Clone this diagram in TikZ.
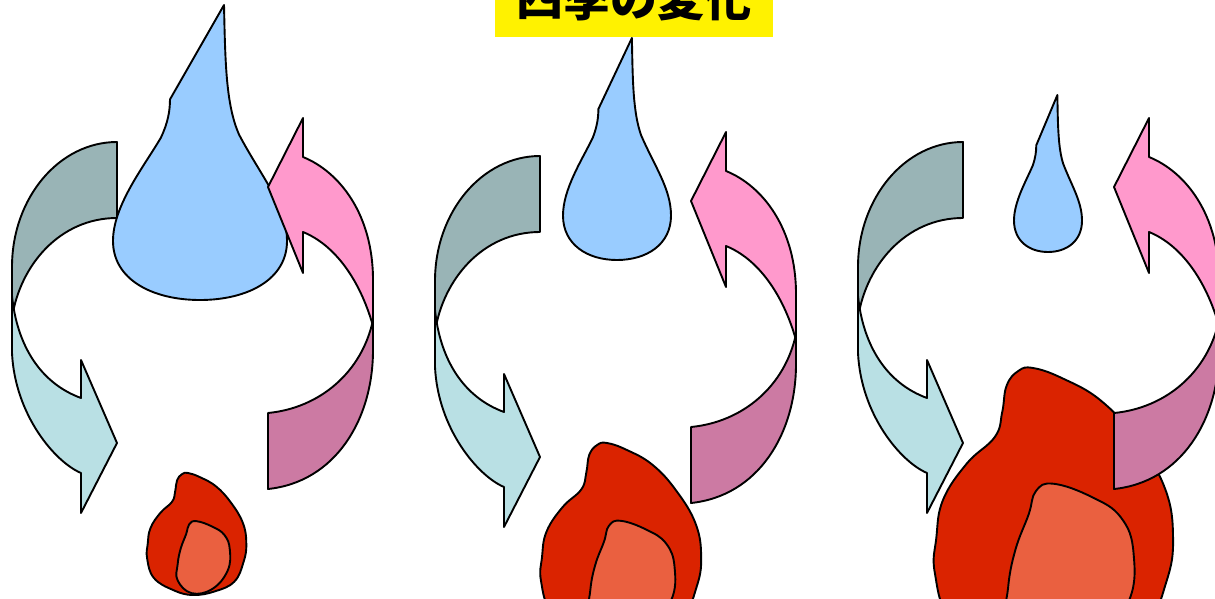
\documentclass[tikz,border=0pt]{standalone}
\usepackage{fontspec}
\newfontfamily\jpfont{Noto Sans CJK JP}

\definecolor{backteal}{HTML}{99B4B6}
\definecolor{frontteal}{HTML}{B9E0E4}
\definecolor{frontpink}{HTML}{FF99CC}
\definecolor{backpink}{HTML}{CC7AA3}
\definecolor{dropblue}{HTML}{99CCFF}
\definecolor{flameout}{HTML}{DA2300}
\definecolor{flamein}{HTML}{EA6040}

\begin{document}
\begin{tikzpicture}%
  [x=1pt,y=-1pt,
   outline/.style={draw=black,line width=1.9pt,line join=round},
   titlebox/.style=
    {fill=yellow,anchor=south,inner sep=0pt,
     minimum width=278pt,minimum height=76pt,
     font=\jpfont\bfseries\fontsize{47}{47}\selectfont}
  ]
  \useasboundingbox (0,0) rectangle (1215,599);

  % one group per stage: arrow offset, drop (bottom, half width, height),
  % flame (top, size)
  \foreach \gx/\gy/\dx/\dy/\dw/\dh/\fx/\fy/\fs in
    {0/0/200/300/87/295/188/473/122,
     423/14/617/260/54/222/607/443/197,
     846/0/1048/252/34/157/1033/368/293}
  {
    % left arrow, back part first
    \begin{scope}[shift={(\gx,\gy)}]
      \draw[outline,fill=backteal]
        (117,142) .. controls (59,142) and (12,198) .. (12,267)
        -- (12,318) .. controls (20,265) and (60,218) .. (117,218) -- cycle;
      \draw[outline,fill=frontteal]
        (12,296) -- (12,353) .. controls (15,415) and (55,462) .. (81,473)
        -- (81,513) -- (117,443) -- (81,360) -- (81,398)
        .. controls (40,383) and (17,345) .. (12,296) -- cycle;
    \end{scope}

    % water drop
    \draw[outline,fill=dropblue,shift={(\dx,\dy)},xscale=\dw,yscale=-\dh]
      (0,0) .. controls (-0.55,0) and (-1,0.07) .. (-1,0.2)
      .. controls (-1,0.32) and (-0.65,0.45) .. (-0.45,0.55)
      .. controls (-0.37,0.6) and (-0.345,0.64) .. (-0.345,0.68)
      -- (0.276,1)
      .. controls (0.29,0.8) and (0.3,0.66) .. (0.45,0.56)
      .. controls (0.7,0.42) and (1,0.32) .. (1,0.2)
      .. controls (1,0.07) and (0.55,0) .. (0,0) -- cycle;

    % flame
    \begin{scope}[shift={(\fx,\fy)},scale=\fs]
      \draw[outline,fill=flameout] plot[smooth cycle,tension=0.7] coordinates
        {(0,0) (0.1,0.035) (0.23,0.11) (0.35,0.24) (0.45,0.41) (0.478,0.58)
         (0.455,0.73) (0.38,0.89) (0.22,0.97) (0.04,1.0) (-0.12,0.96)
         (-0.28,0.86) (-0.335,0.7) (-0.33,0.58) (-0.307,0.45) (-0.225,0.325)
         (-0.13,0.235) (-0.105,0.15) (-0.09,0.06) (-0.05,0.01)};
      \draw[outline,fill=flamein] plot[smooth cycle,tension=0.7] coordinates
        {(0.07,0.395) (0.2,0.44) (0.3,0.51) (0.343,0.63) (0.325,0.8)
         (0.2,0.95) (0.03,0.985) (-0.085,0.88) (-0.085,0.75) (-0.06,0.62)
         (-0.015,0.5) (0.01,0.42)};
    \end{scope}

    % right arrow, back part first
    \begin{scope}[shift={(\gx,\gy)}]
      \draw[outline,fill=backpink]
        (373,320) -- (373,350) .. controls (373,420) and (335,482) .. (268,489)
        -- (268,413) .. controls (320,408) and (362,372) .. (373,320) -- cycle;
      \draw[outline,fill=frontpink]
        (303,118) -- (303,157) .. controls (340,172) and (373,215) .. (373,280)
        -- (373,326) .. controls (360,280) and (335,245) .. (303,232)
        -- (303,273) -- (268,187) -- cycle;
    \end{scope}
  }

  \node[titlebox] (title) at (634,37) {四季の変化};
\end{tikzpicture}
\end{document}
